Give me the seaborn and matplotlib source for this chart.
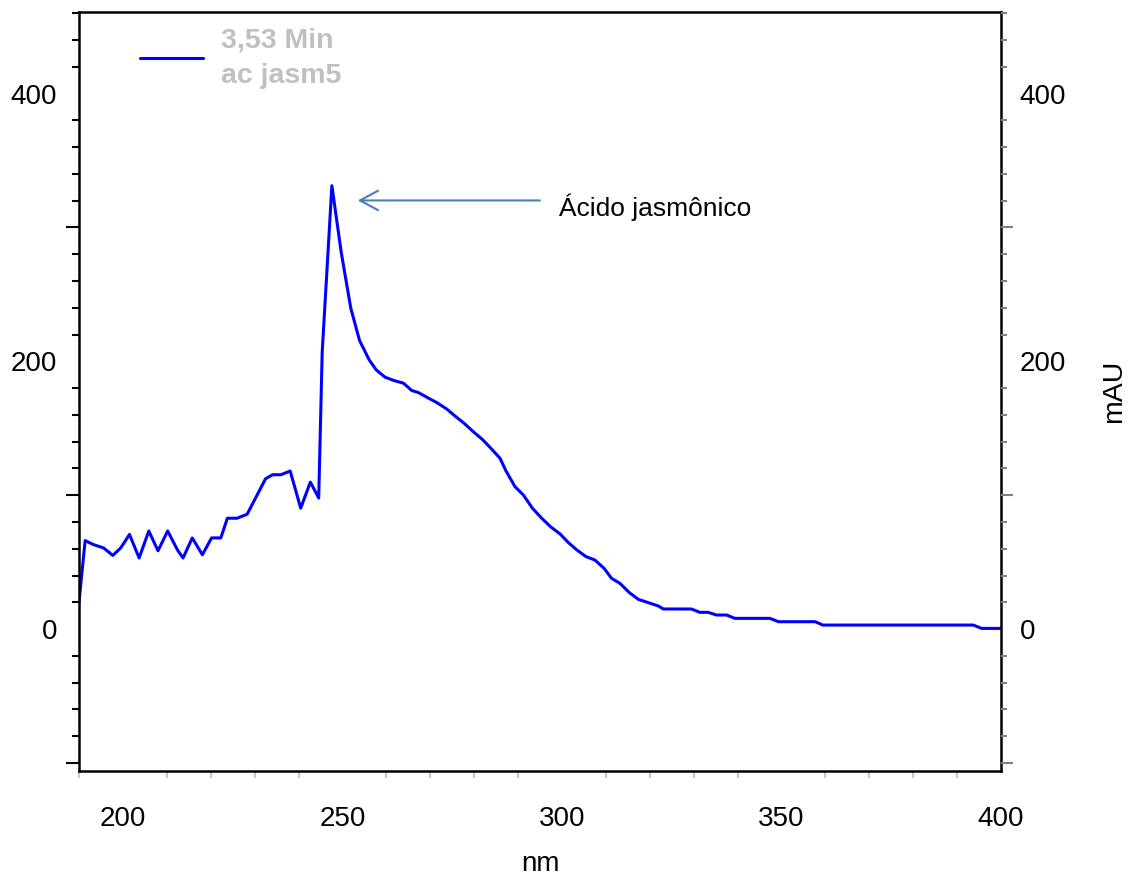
import matplotlib
matplotlib.use('Agg')
import matplotlib.pyplot as plt
import seaborn as sns
from matplotlib.ticker import FixedLocator

# spectrum (nm, mAU)
wavelength = [190.0, 191.4, 193.3, 195.6, 197.7, 199.5, 201.5, 203.7, 205.9, 208.0,
              210.2, 212.4, 213.7, 215.8, 218.1, 220.2, 222.3, 223.8, 226.0, 228.3,
              230.5, 232.5, 234.1, 236.0, 238.1, 240.5, 242.7, 244.6, 245.4, 247.6,
              249.7, 251.9, 253.9, 256.1, 257.7, 259.7, 261.8, 263.9, 265.8, 267.3,
              269.6, 271.5, 273.8, 275.6, 277.7, 279.8, 282.0, 284.0, 285.9, 287.2,
              289.3, 291.2, 293.3, 295.4, 297.4, 299.6, 301.5, 303.4, 305.5, 307.5,
              309.6, 311.3, 313.2, 315.4, 317.4, 319.7, 322.0, 323.1, 329.5, 331.4,
              333.3, 335.2, 337.5, 339.4, 347.4, 349.3, 357.7, 359.4, 393.7, 395.6,
              400.0]
absorbance = [20.2, 66.1, 63.1, 60.6, 55.0, 60.6, 70.7, 53.1, 73.3, 58.5,
              73.3, 59.3, 53.1, 68.1, 55.5, 68.1, 68.1, 82.8, 82.8, 85.8,
              99.7, 112.3, 115.3, 115.3, 118.1, 90.3, 109.8, 97.9, 207.3, 331.2,
              282.1, 239.8, 215.6, 201.1, 193.6, 188.2, 185.6, 183.7, 178.2, 176.7,
              172.5, 169.2, 164.3, 159.3, 153.8, 147.5, 141.3, 134.4, 127.6, 118.5,
              106.4, 100.2, 90.2, 82.8, 76.5, 71.0, 64.5, 59.1, 54.1, 51.6,
              45.4, 37.9, 34.2, 27.1, 22.2, 19.7, 17.2, 15.0, 15.0, 12.5,
              12.5, 10.5, 10.5, 8.0, 8.0, 5.5, 5.5, 3.0, 3.0, 0.5,
              0.5]

series_label = "3,53 Min\nac jasm5"
peak_label = "Ácido jasmônico"
x_ticks = [200, 250, 300, 350, 400]
y_labeled = [0, 200, 400]
y_long = [-100, 100, 300]

sns.set_style('white')
plt.rcParams['font.family'] = ['Liberation Sans', 'DejaVu Sans']
plt.rcParams['text.color'] = 'black'
plt.rcParams['axes.labelcolor'] = 'black'
plt.rcParams['xtick.labelcolor'] = 'black'
plt.rcParams['ytick.labelcolor'] = 'black'

fig = plt.figure(figsize=(11.35, 8.8), dpi=100)
ax = fig.add_axes([0.0696, 0.1239, 0.8123, 0.8625])

sns.lineplot(x=wavelength, y=absorbance, ax=ax, color='#0000ff', lw=2.2,
             label=series_label)

ax.set_xlim(190, 400)
ax.set_ylim(-106, 461)

for s in ax.spines.values():
    s.set_visible(True)
    s.set_color('black')
    s.set_linewidth(1.8)

# x axis: labelled majors without marks, light grey minors
ax.set_xticks(x_ticks)
ax.xaxis.set_minor_locator(FixedLocator([v for v in range(190, 401, 10) if v % 50]))
ax.tick_params(axis='x', which='major', length=0, pad=25, labelsize=20,
               labelcolor='black')
ax.tick_params(axis='x', which='minor', bottom=True, length=5, width=1.5,
               color='#c8c8c8', direction='out')

# y axes: labels at 0/200/400 (no mark), long marks at -100/100/300
y_major = sorted(y_labeled + y_long)
y_text = [str(v) if v in y_labeled else '' for v in y_major]
y_minor = [v for v in range(-100, 461, 20) if v % 100]

ax2 = ax.twinx()
ax2.set_ylim(ax.get_ylim())
for s in ax2.spines.values():
    s.set_visible(False)

ax.set_yticks(y_major, y_text)
ax.yaxis.set_minor_locator(FixedLocator(y_minor))
ax.tick_params(axis='y', which='major', left=True, right=False, length=9.5,
               width=1.5, color='black', pad=6.3, labelsize=20,
               labelcolor='black', direction='out')
ax.tick_params(axis='y', which='minor', left=True, right=False, length=5,
               width=1.5, color='black', direction='out')

ax2.set_yticks(y_major, y_text)
ax2.yaxis.set_minor_locator(FixedLocator(y_minor))
ax2.tick_params(axis='y', which='major', right=True, length=8.6, width=1.5,
                color='#808080', pad=5, labelsize=20, labelcolor='black',
                direction='out')
ax2.tick_params(axis='y', which='minor', right=True, length=4.3, width=1.5,
                color='#808080', direction='out')

for t, v in zip(ax.yaxis.get_major_ticks(), y_major):
    if v in y_labeled:
        t.tick1line.set_visible(False)
for t, v in zip(ax2.yaxis.get_major_ticks(), y_major):
    if v in y_labeled:
        t.tick2line.set_visible(False)

ax.set_xlabel('nm', fontsize=20, labelpad=14)
ax.set_ylabel('')
ax2.set_ylabel('mAU', fontsize=20.5, labelpad=25)

leg = ax.legend(loc='upper left', bbox_to_anchor=(0.0662, 0.979), frameon=False,
                handlelength=2.2, handletextpad=0.65, borderpad=0, borderaxespad=0,
                prop=dict(weight='bold', size=20.5))
for t in leg.get_texts():
    t.set_color('#c0c0c0')
    t.set_linespacing(1.45)

ax.annotate('', xy=(253.5, 320.2), xytext=(295.0, 320.2),
            arrowprops=dict(arrowstyle='->,head_length=1.3,head_width=0.7',
                            color='#4a7ebb', lw=1.5, shrinkA=0, shrinkB=0))
ax.text(299.3, 314.8, peak_label, fontsize=19, va='center', ha='left')

fig.savefig('out.png', dpi=100)
